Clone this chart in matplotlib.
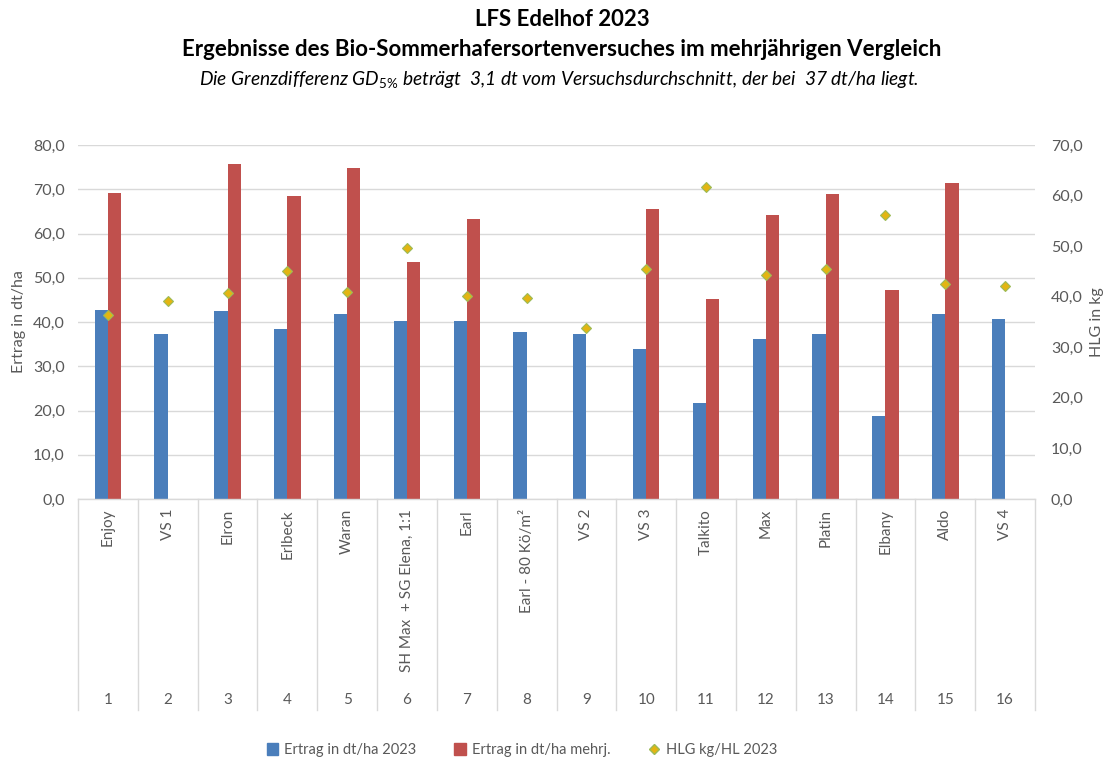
import matplotlib
matplotlib.use("Agg")
import matplotlib.pyplot as plt
import numpy as np
from matplotlib.lines import Line2D
from matplotlib.patches import Patch

plt.rcParams['font.family'] = ['Lato', 'DejaVu Sans']
plt.rcParams['mathtext.fontset'] = 'custom'
plt.rcParams['mathtext.rm'] = 'Lato'
plt.rcParams['mathtext.it'] = 'Lato:italic'

# ---- data ----
numbers = ["1", "2", "3", "4", "5", "6", "7", "8", "9", "10", "11", "12", "13", "14", "15", "16"]
varieties = ["Enjoy", "VS 1", "Elron", "Erlbeck", "Waran", "SH Max  + SG Elena, 1:1", "Earl",
             "Earl - 80 Kö/m²", "VS 2", "VS 3", "Talkito", "Max", "Platin", "Elbany", "Aldo", "VS 4"]
ertrag_2023 = [42.7, 37.2, 42.4, 38.5, 41.7, 40.3, 40.3, 37.7, 37.4, 34.0, 21.8, 36.2, 37.4, 18.8, 41.7, 40.6]
ertrag_mehrj = [69.2, np.nan, 75.8, 68.4, 74.7, 53.5, 63.2, np.nan, np.nan, 65.5, 45.3, 64.2, 68.9, 47.2, 71.3, np.nan]
hlg_2023 = [36.4, 39.2, 40.7, 45.1, 40.9, 49.7, 40.1, 39.8, 33.9, 45.5, 61.6, 44.2, 45.5, 56.1, 42.6, 42.1]
left_ticks = [0, 10, 20, 30, 40, 50, 60, 70, 80]
right_ticks = [0, 10, 20, 30, 40, 50, 60, 70]

blue = '#4A7EBB'
red = '#C0504D'
txt = '#595959'
grid = '#D9D9D9'
dia_face = '#E3B512'
dia_edge = '#9BBB59'

W, H = 1106, 760
fig = plt.figure(figsize=(W / 100, H / 100), dpi=100)
x0, x1, ytop, ybot = 78, 1035, 145, 499
ax = fig.add_axes([x0 / W, 1 - ybot / H, (x1 - x0) / W, (ybot - ytop) / H])
ax2 = ax.twinx()

n = len(varieties)
x = np.arange(n)
bw = 0.222
ax.bar(x - bw / 2, ertrag_2023, bw, color=blue, zorder=3, label='Ertrag in dt/ha 2023')
ax.bar(x + bw / 2, ertrag_mehrj, bw, color=red, zorder=3, label='Ertrag in dt/ha mehrj.')
ax2.plot(x, hlg_2023, linestyle='none', marker='D', markersize=5.5, markerfacecolor=dia_face,
         markeredgecolor=dia_edge, markeredgewidth=0.8, zorder=5, label='HLG kg/HL 2023')

ax.set_xlim(-0.5, n - 0.5)
ax.set_ylim(0, 80)
ax2.set_ylim(0, 70)
ax.set_yticks(left_ticks)
ax.set_yticklabels([f"{v:.1f}".replace('.', ',') for v in left_ticks])
ax2.set_yticks(right_ticks)
ax2.set_yticklabels([f"{v:.1f}".replace('.', ',') for v in right_ticks])
ax.yaxis.grid(True, color=grid, linewidth=1.0, zorder=0)
ax.set_axisbelow(True)
for a in (ax, ax2):
    for s in a.spines.values():
        s.set_visible(False)
    a.tick_params(axis='y', length=0, labelsize=11.5, labelcolor=txt)
ax.tick_params(axis='y', pad=9.5)
ax2.tick_params(axis='y', pad=11.5)
ax.set_xticks([])
ax.set_ylabel('Ertrag in dt/ha', fontsize=11.5, color=txt, labelpad=5)
ax2.set_ylabel('HLG in kg', fontsize=11.5, color=txt, labelpad=5)

# category axis (two levels)
trans = ax.get_xaxis_transform()
ax.plot([-0.5, n - 0.5], [0, 0], transform=trans, color=grid, lw=1.0, clip_on=False, zorder=4)
depth = (710 - ybot) / (ybot - ytop)
for b in np.arange(-0.5, n, 1.0):
    ax.plot([b, b], [0, -depth], transform=trans, color=grid, lw=1.0, clip_on=False)
lab_y = -(509 - ybot) / (ybot - ytop)
num_y = -(700 - ybot) / (ybot - ytop)
for i in range(n):
    ax.text(x[i], lab_y, varieties[i], transform=trans, rotation=90, ha='center', va='top',
            fontsize=11, color=txt)
    ax.text(x[i], num_y, numbers[i], transform=trans, ha='center', va='center',
            fontsize=11, color=txt)

# titles
cx = 562 / W
fig.text(cx, 1 - 20 / H, 'LFS Edelhof 2023', ha='center', va='center', fontsize=16, fontweight='bold')
fig.text(cx, 1 - 50 / H, 'Ergebnisse des Bio-Sommerhafersortenversuches im mehrjährigen Vergleich',
         ha='center', va='center', fontsize=16, fontweight='bold')
fig.text(559 / W, 1 - 80 / H,
         r'Die Grenzdifferenz GD$_{\mathit{5\%}}$ beträgt  3,1 dt vom Versuchsdurchschnitt, der bei  37 dt/ha liegt.',
         ha='center', va='center', fontsize=13.8, fontstyle='italic')

handles = [Patch(color=blue), Patch(color=red),
           Line2D([], [], linestyle='none', marker='D', markersize=5, markerfacecolor=dia_face,
                  markeredgecolor=dia_edge)]
fig.legend(handles, ['Ertrag in dt/ha 2023', 'Ertrag in dt/ha mehrj.', 'HLG kg/HL 2023'],
           loc='center', bbox_to_anchor=(522 / W, 1 - 750 / H), ncol=3, frameon=False,
           fontsize=10.5, labelcolor=txt, handlelength=0.8, handleheight=0.8, handletextpad=0.4,
           columnspacing=2.6)

fig.savefig('out.png', dpi=100)
